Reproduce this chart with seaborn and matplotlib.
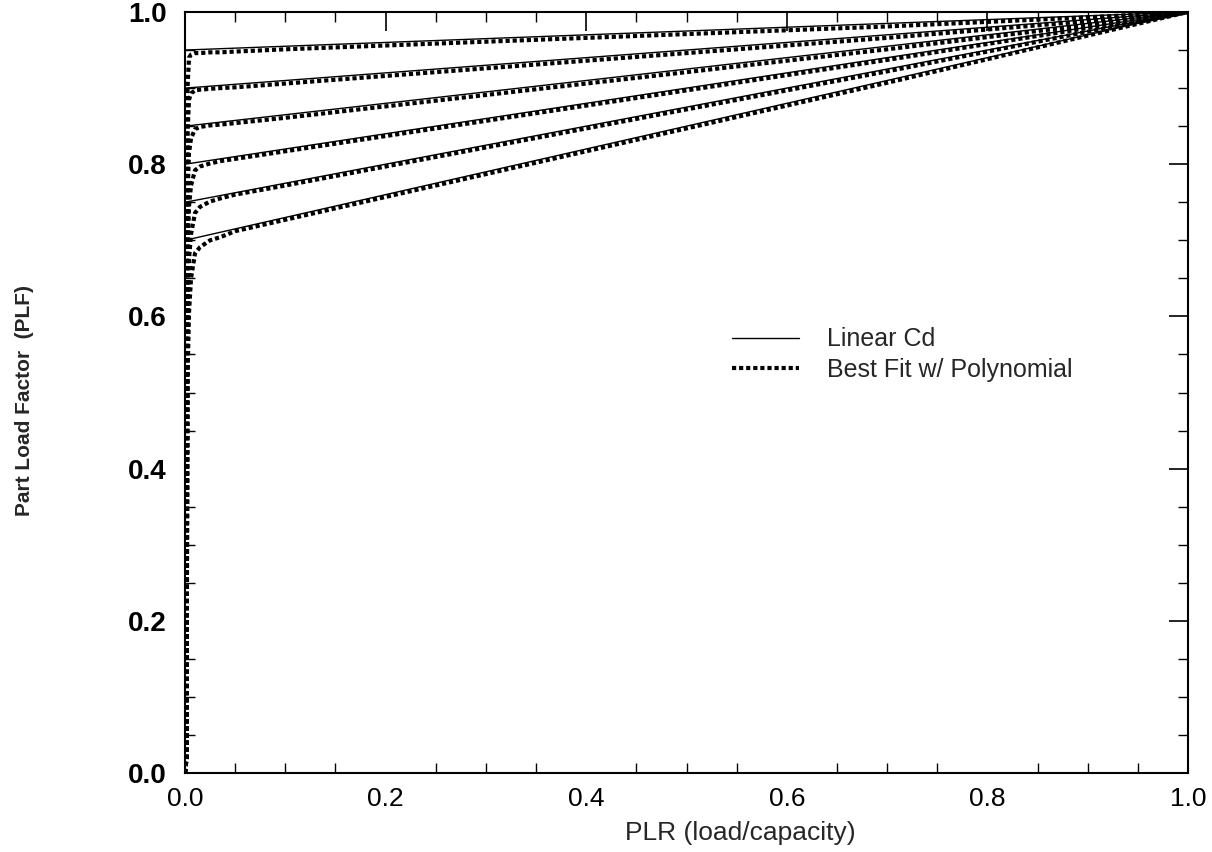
import numpy as np
import pandas as pd
import matplotlib
matplotlib.use("Agg")
import matplotlib.pyplot as plt
from matplotlib.lines import Line2D
from matplotlib.ticker import MultipleLocator
import seaborn as sns

# ---- data ----
cd_values = [0.05, 0.10, 0.15, 0.20, 0.25, 0.30]
linear_plr = [0.0, 1.0]
linear_plf = {
    0.05: [0.95, 1.0],
    0.10: [0.90, 1.0],
    0.15: [0.85, 1.0],
    0.20: [0.80, 1.0],
    0.25: [0.75, 1.0],
    0.30: [0.70, 1.0],
}
poly_plr = [0.0, 0.0015, 0.0025, 0.004, 0.006, 0.01, 0.015, 0.025, 0.035, 0.05,
            0.1, 0.2, 0.3, 0.4, 0.5, 0.6, 0.7, 0.8, 0.9, 1.0]
poly_plf = {
    0.05: [0.0, 0.02, 0.90, 0.940, 0.944, 0.946, 0.946, 0.947, 0.947, 0.948,
           0.951, 0.956, 0.961, 0.966, 0.971, 0.976, 0.981, 0.987, 0.993, 1.0],
    0.10: [0.0, 0.02, 0.84, 0.885, 0.893, 0.897, 0.898, 0.899, 0.900, 0.901,
           0.906, 0.916, 0.926, 0.936, 0.946, 0.956, 0.966, 0.977, 0.988, 1.0],
    0.15: [0.0, 0.02, 0.76, 0.815, 0.834, 0.846, 0.849, 0.851, 0.852, 0.854,
           0.861, 0.876, 0.891, 0.906, 0.921, 0.936, 0.951, 0.967, 0.983, 1.0],
    0.20: [0.0, 0.02, 0.68, 0.745, 0.772, 0.792, 0.797, 0.801, 0.804, 0.807,
           0.817, 0.837, 0.857, 0.877, 0.897, 0.917, 0.937, 0.958, 0.979, 1.0],
    0.25: [0.0, 0.02, 0.60, 0.675, 0.708, 0.736, 0.744, 0.751, 0.755, 0.760,
           0.772, 0.797, 0.822, 0.847, 0.872, 0.897, 0.922, 0.948, 0.974, 1.0],
    0.30: [0.0, 0.02, 0.52, 0.605, 0.650, 0.683, 0.691, 0.700, 0.704, 0.712,
           0.727, 0.757, 0.787, 0.817, 0.847, 0.877, 0.907, 0.938, 0.969, 1.0],
}
x_ticks = [0.0, 0.2, 0.4, 0.6, 0.8, 1.0]
y_ticks = [0.0, 0.2, 0.4, 0.6, 0.8, 1.0]
legend_labels = ["Linear Cd", "Best Fit w/ Polynomial"]

sns.set_theme(style="white")
plt.rcParams["font.family"] = ["Liberation Sans", "DejaVu Sans"]

fig = plt.figure(figsize=(12.12, 8.52), dpi=100)
ax = fig.add_axes([185 / 1212, (852 - 773) / 852, 1003 / 1212, 761 / 852])

dot_style = (0, (1.0, 0.7))
dot_lw = 3.0
for cd in cd_values:
    sns.lineplot(x=linear_plr, y=linear_plf[cd], ax=ax, color="black",
                 linewidth=1.0, estimator=None, sort=False)
    sns.lineplot(x=poly_plr, y=poly_plf[cd], ax=ax, color="black",
                 linewidth=dot_lw, estimator=None, sort=False)
    ax.lines[-1].set_linestyle(dot_style)
    ax.lines[-1].set_dash_capstyle("butt")

ax.set_xlim(0, 1)
ax.set_ylim(0, 1)
ax.set_xticks(x_ticks)
ax.set_yticks(y_ticks)
ax.set_xticklabels([f"{v:.1f}" for v in x_ticks], fontsize=19)
ax.set_yticklabels([f"{v:.1f}" for v in y_ticks], fontsize=20, fontweight="bold")
ax.xaxis.set_minor_locator(MultipleLocator(0.05))
ax.yaxis.set_minor_locator(MultipleLocator(0.05))
ax.tick_params(which="major", direction="in", length=14, width=1.2,
               top=True, right=True, colors="black")
ax.tick_params(axis="x", which="major", pad=10)
ax.tick_params(axis="y", which="major", pad=13)
ax.tick_params(which="minor", direction="in", length=7, width=1.0,
               top=True, right=True, bottom=True, left=True, colors="black")
for s in ax.spines.values():
    s.set_color("black")
    s.set_linewidth(1.5)

ax.set_xlabel("")
ax.set_ylabel("")
fig.text(740 / 1212, 1 - 833 / 852, "PLR (load/capacity)", fontsize=19,
         ha="center", va="center")
fig.text(25 / 1212, 1 - 400 / 852, "Part Load Factor  (PLF)", fontsize=15,
         fontweight="bold", rotation=90, ha="center", va="center")

handles = [Line2D([0], [0], color="black", linewidth=1.0),
           Line2D([0], [0], color="black", linewidth=dot_lw, linestyle=dot_style)]
ax.legend(handles, legend_labels, loc="center left",
          bbox_to_anchor=(0.545, 0.55), frameon=False, fontsize=18,
          handlelength=2.7, handletextpad=1.1, borderaxespad=0, borderpad=0,
          labelspacing=0.25)

fig.savefig("out.png", dpi=100)
